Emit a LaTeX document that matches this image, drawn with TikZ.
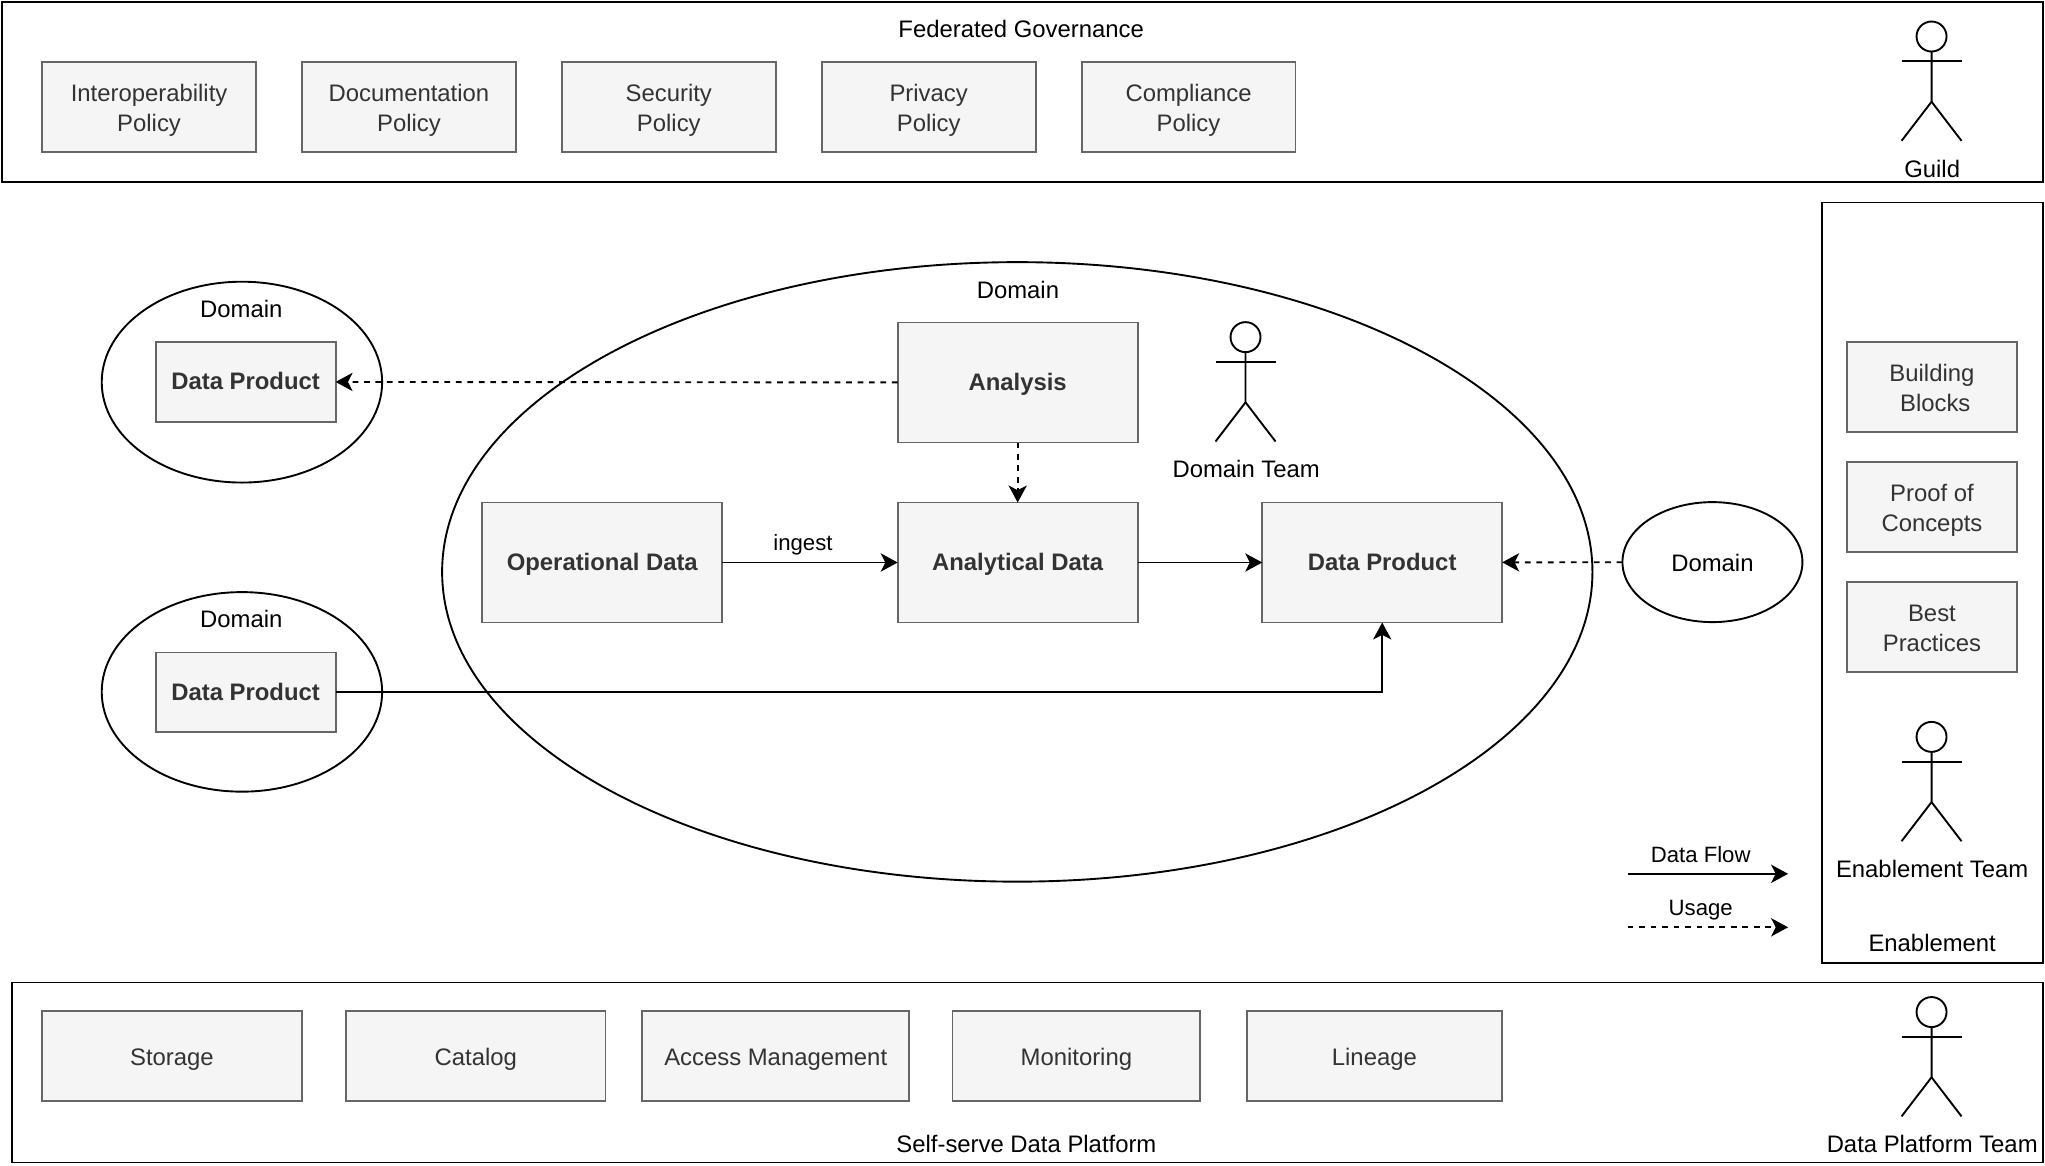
\documentclass[tikz,border=0pt]{standalone}
\usepackage{fontspec}
\setmainfont{Liberation Sans}
\usetikzlibrary{
    arrows.meta,
    calc,
    positioning,
    shapes.geometric,
}
\definecolor{BoxBG}{HTML}{F5F5F5}
\definecolor{BoxLine}{HTML}{666666}
\definecolor{BoxText}{HTML}{333333}
\newcommand{\BaseFont}{\fontsize{18.3}{23}\selectfont}
\newcommand{\NoteFont}{\fontsize{17}{21}\selectfont}
\tikzset{
    struts/.style={execute at begin node={\rule{0pt}{#1}},execute at end node={\rule[-4pt]{0pt}{0pt}}},
}
\tikzstyle{group}=[draw,rectangle,line width=1.45pt,inner sep=0pt,outer sep=0pt,anchor=north west]
\tikzstyle{area}=[draw,ellipse,line width=1.45pt,inner sep=0pt,outer sep=0pt,struts=19pt]
\tikzstyle{item}=[draw=BoxLine,fill=BoxBG,text=BoxText,rectangle,line width=1.45pt,inner sep=0pt,outer sep=0pt,align=center,anchor=north west]
\tikzstyle{policy}=[item,struts=42pt,minimum width=164pt,minimum height=69pt]
\tikzstyle{guide}=[item,struts=42pt,minimum width=130pt,minimum height=69pt]
\tikzstyle{tool}=[item,struts=19pt,minimum height=69pt]
\tikzstyle{stage}=[item,struts=16pt,minimum width=184pt,minimum height=92pt,font=\BaseFont\bfseries]
\tikzstyle{product}=[item,struts=16pt,minimum width=138pt,minimum height=61pt,font=\BaseFont\bfseries]
\tikzstyle{caption}=[inner sep=0pt,struts=17pt,anchor=center]
\tikzstyle{note}=[inner sep=0pt,struts=16pt,anchor=center,font=\NoteFont]
\tikzstyle{flow}=[-{Stealth[length=13pt,width=14pt,inset=3.5pt]},line width=1.45pt]
\tikzstyle{usage}=[flow,dash pattern=on 4.4pt off 4.4pt]
\tikzstyle{limb}=[line width=1.45pt]
\tikzset{
    x=1pt,
    y=-1pt,
    every node/.append style={font=\BaseFont},
}
\newcommand{\Actor}[3]{%
    \node[draw,circle,line width=1.45pt,inner sep=0pt,outer sep=0pt,minimum size=23pt] (#1) at (#2) {};
    \draw[limb] (#1.south) -- ++(0,38.5) coordinate (#1 hip) -- ++(-23,30);
    \draw[limb] (#1 hip) -- ++(23,30);
    \draw[limb] ($(#1.south)+(-23,7.5)$) -- ++(46,0);
    \node[caption] (#1 label) at ($(#1)+(.5,101.5)$) {#3};
}
\begin{document}
\begin{tikzpicture}
    \useasboundingbox (0,0) rectangle (1568,893.3);

    % Federated governance
    \node[group,minimum width=1565pt,minimum height=138pt] (governance) at (1.3,1.3) {};
    \node[caption] (governance title) at (783,22) {Federated Governance};
    \node[policy] (interoperability) at (32.3,47.3) {Interoperability\\Policy};
    \node[policy,right=35.25pt of interoperability] (documentation) {Documentation\\Policy};
    \node[policy,right=35.25pt of documentation] (security) {Security\\Policy};
    \node[policy,right=35.25pt of security] (privacy) {Privacy\\Policy};
    \node[policy,right=35.25pt of privacy] (compliance) {Compliance\\Policy};
    \Actor{guild}{1481,28}{Guild};

    % Enablement
    \node[group,minimum width=169pt,minimum height=583pt] (enablement) at (1397.3,155.3) {};
    \node[guide] (blocks) at (1416.3,262.3) {Building\\\ Blocks};
    \node[guide,below=23pt of blocks] (concepts) {Proof of\\Concepts};
    \node[guide,below=23pt of concepts] (practices) {Best\\Practices};
    \Actor{coach}{1481,565}{Enablement Team};
    \node[caption] (enablement title) at (1481.5,723) {Enablement};

    % Self-serve platform
    \node[group,minimum width=1557pt,minimum height=138pt] (platform) at (9.3,753.3) {};
    \node[caption] (platform title) at (787,877) {Self-serve Data Platform};
    \node[tool,minimum width=199pt] (storage) at (32.3,775.3) {Storage};
    \node[tool,minimum width=199pt] (catalog) at (265.3,775.3) {Catalog};
    \node[tool,minimum width=205pt] (access) at (492.3,775.3) {Access Management};
    \node[tool,minimum width=190pt] (monitoring) at (730.3,775.3) {Monitoring};
    \node[tool,minimum width=195pt] (lineage) at (956.3,775.3) {Lineage};
    \Actor{platform team}{1481,776}{Data Platform Team};

    % Domains
    \node[area,minimum width=215pt,minimum height=154pt] (upper domain) at (185.5,293) {};
    \node[caption] (upper domain title) at (185,237) {Domain};
    \node[product] (upper product) at (119.3,262.3) {Data Product};
    \node[area,minimum width=215pt,minimum height=153pt] (lower domain) at (185.5,530.5) {};
    \node[caption] (lower domain title) at (185,475) {Domain};
    \node[product] (lower product) at (119.3,500.3) {Data Product};
    \node[area,minimum width=882pt,minimum height=475pt] (main domain) at (780,438.5) {};
    \node[caption] (main domain title) at (780.5,222) {Domain};
    \node[area,minimum width=138pt,minimum height=92pt] (side domain) at (1313,431) {Domain};

    \node[stage] (analysis) at (688.3,247.3) {Analysis};
    \node[stage,below=46pt of analysis] (analytical) {Analytical Data};
    \node[stage,left=134.5pt of analytical] (operational) {Operational Data};
    \node[stage,right=95.5pt of analytical] (main product) {Data Product};
    \Actor{team}{955,258.5}{Domain Team};

    \draw[usage] (analysis) -- (upper product);
    \draw[usage] (analysis) -- (analytical);
    \draw[flow] (operational) -- node[note,pos=.46,yshift=15pt] (ingest) {ingest} (analytical);
    \draw[flow] (analytical) -- (main product);
    \draw[usage] (side domain) -- (main product);
    \draw[flow] (lower product.east) -| (main product.south);

    % Legend
    \coordinate (flow start) at (1248,670);
    \coordinate (flow end) at (1371,670);
    \coordinate (usage start) at (1248,711);
    \coordinate (usage end) at (1371,711);
    \draw[flow] (flow start) -- (flow end);
    \draw[usage] (usage start) -- (usage end);
    \node[note] (flow label) at (1304,655) {Data Flow};
    \node[note] (usage label) at (1304,696) {Usage};
\end{tikzpicture}
\end{document}
